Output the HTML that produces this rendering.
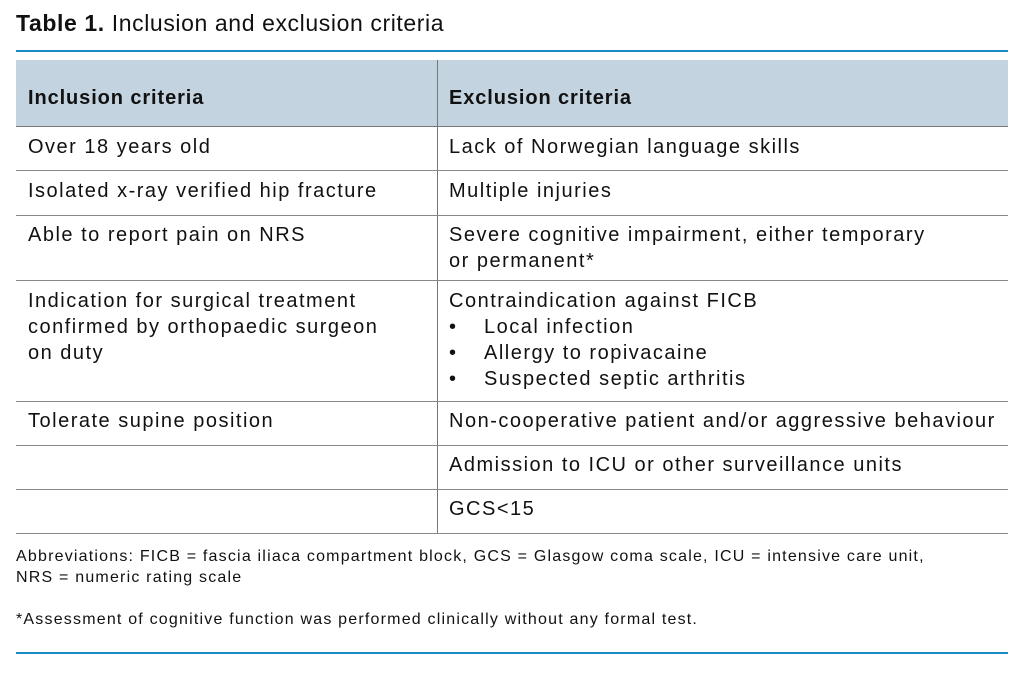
<!DOCTYPE html>
<html><head><meta charset="utf-8"><style>
body{margin:0;width:1024px;height:675px;background:#fff;position:relative;font-family:"Liberation Sans",sans-serif;color:#111;overflow:hidden}
div{position:absolute;white-space:nowrap}
.t{font-size:20px;line-height:26px;letter-spacing:1.5px}
.f{font-size:16px;line-height:21px;letter-spacing:1.2px}
.h{height:1px;background:#888;left:16px;width:992px}
.b{height:2px;background:#1a8ac6;left:16px;width:992px}
</style></head><body>
<div style="left:16px;top:9px;font-size:23px;line-height:28px;letter-spacing:0.6px"><b>Table 1.</b> Inclusion and exclusion criteria</div>
<div class="b" style="top:50px"></div>
<div style="left:16px;top:60px;width:992px;height:66px;background:#c3d3e0"></div>
<div style="left:437px;top:60px;width:1px;height:473px;background:#777"></div>
<div class="h" style="top:126px;background:#777"></div>
<div class="h" style="top:170px"></div>
<div class="h" style="top:215px"></div>
<div class="h" style="top:280px"></div>
<div class="h" style="top:401px"></div>
<div class="h" style="top:445px"></div>
<div class="h" style="top:489px"></div>
<div class="h" style="top:533px"></div>
<div class="t" style="left:28px;top:85px;font-weight:bold;letter-spacing:0.9px">Inclusion criteria</div>
<div class="t" style="left:449px;top:85px;font-weight:bold;letter-spacing:0.9px">Exclusion criteria</div>
<div class="t" style="left:28px;top:134px">Over 18 years old</div>
<div class="t" style="left:449px;top:134px">Lack of Norwegian language skills</div>
<div class="t" style="left:28px;top:178px">Isolated x-ray verified hip fracture</div>
<div class="t" style="left:449px;top:178px">Multiple injuries</div>
<div class="t" style="left:28px;top:222px">Able to report pain on NRS</div>
<div class="t" style="left:449px;top:222px">Severe cognitive impairment, either temporary<br>or permanent*</div>
<div class="t" style="left:28px;top:288px">Indication for surgical treatment<br>confirmed by orthopaedic surgeon<br>on duty</div>
<div class="t" style="left:449px;top:288px">Contraindication against FICB</div>
<div class="t" style="left:449px;top:314px;letter-spacing:0"><span style="display:inline-block;width:35px">•</span><span style="letter-spacing:1.5px">Local infection</span><br><span style="display:inline-block;width:35px">•</span><span style="letter-spacing:1.5px">Allergy to ropivacaine</span><br><span style="display:inline-block;width:35px">•</span><span style="letter-spacing:1.5px">Suspected septic arthritis</span></div>
<div class="t" style="left:28px;top:408px">Tolerate supine position</div>
<div class="t" style="left:449px;top:408px">Non-cooperative patient and/or aggressive behaviour</div>
<div class="t" style="left:449px;top:452px">Admission to ICU or other surveillance units</div>
<div class="t" style="left:449px;top:496px">GCS&lt;15</div>
<div class="f" style="left:16px;top:546px">Abbreviations: FICB = fascia iliaca compartment block, GCS = Glasgow coma scale, ICU = intensive care unit,<br>NRS = numeric rating scale</div>
<div class="f" style="left:16px;top:609px">*Assessment of cognitive function was performed clinically without any formal test.</div>
<div class="b" style="top:652px"></div>
</body></html>
